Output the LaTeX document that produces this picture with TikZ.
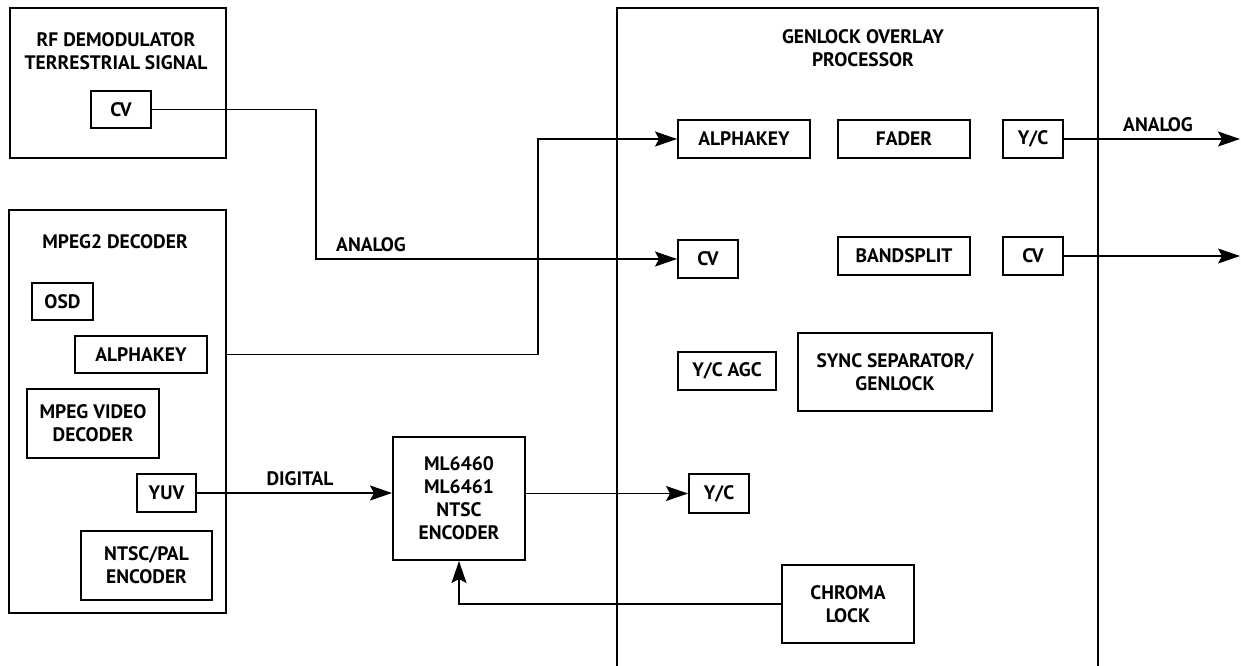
\documentclass[tikz,border=0pt]{standalone}
\usepackage{fontspec}
\setmainfont{PT Sans}
\usetikzlibrary{arrows.meta}
\newcommand{\blockfont}{\fontsize{19.5}{23}\selectfont\bfseries}
\tikzstyle{block} = [draw, line width=2pt, inner sep=0pt, align=center, font=\blockfont]
\tikzstyle{title} = [inner sep=0pt, align=center, font=\blockfont]
\tikzstyle{wire} = [line width=1.2pt]
\tikzstyle{sig} = [wire, -{Stealth[length=22pt,width=15pt,inset=4pt]}]

\begin{document}
\begin{tikzpicture}[x=1pt, y=-1pt]
	\useasboundingbox (0,0) rectangle (1241,665);
	\clip (0,0) rectangle (1241,665);
	% left side
	\node[block, minimum width=216pt, minimum height=150pt] (rf) at (118,83) {};
	\node[title] (rftitle) at (116,51) {RF DEMODULATOR\\TERRESTRIAL SIGNAL};
	\node[block, minimum width=60pt, minimum height=37pt] (rfcv) at (121,109.5) {CV};
	\node[block, minimum width=217pt, minimum height=403pt] (mpeg) at (117.5,411.5) {};
	\node[title] (mpegtitle) at (115,242) {MPEG2 DECODER};
	\node[block, minimum width=61pt, minimum height=37pt] (osd) at (62.5,301.5) {OSD};
	\node[block, minimum width=132pt, minimum height=37pt] (mkey) at (141,354.5) {ALPHAKEY};
	\node[block, minimum width=132pt, minimum height=69pt] (vdec) at (93,423.5) {MPEG VIDEO\\DECODER};
	\node[block, minimum width=59pt, minimum height=38pt] (yuv) at (166.5,493) {YUV};
	\node[block, minimum width=131pt, minimum height=69pt] (npal) at (146.5,565.5) {NTSC/PAL\\ENCODER};
	\node[block, minimum width=132pt, minimum height=123pt] (enc) at (459,498.5) {ML6460\\ML6461\\NTSC\\ENCODER};
	% genlock processor
	\node[block, minimum width=481pt, minimum height=700pt] (genlock) at (857.5,358) {};
	\node[title] (gtitle) at (863,48) {GENLOCK OVERLAY\\PROCESSOR};
	\node[block, minimum width=132pt, minimum height=38pt] (gkey) at (744,139) {ALPHAKEY};
	\node[block, minimum width=132pt, minimum height=38pt] (fader) at (904,139) {FADER};
	\node[block, minimum width=60pt, minimum height=38pt] (gyc) at (1033,139) {Y/C};
	\node[block, minimum width=60pt, minimum height=38pt] (gcv) at (708,259) {CV};
	\node[block, minimum width=132pt, minimum height=38pt] (band) at (904,256) {BANDSPLIT};
	\node[block, minimum width=60pt, minimum height=38pt] (gcvout) at (1033,256) {CV};
	\node[block, minimum width=98pt, minimum height=38pt] (agc) at (727,371) {Y/C AGC};
	\node[block, minimum width=194pt, minimum height=78pt] (sync) at (895,372) {SYNC SEPARATOR/\\GENLOCK};
	\node[block, minimum width=60pt, minimum height=39pt] (gycin) at (719,493.5) {Y/C};
	\node[block, minimum width=132pt, minimum height=78pt] (chroma) at (848,604) {CHROMA\\LOCK};
	% connections
	\coordinate (rfbend) at (316,259);
	\coordinate (keybend) at (538,139);
	\coordinate (ycout) at (1240,139);
	\coordinate (cvout) at (1240,256);
	\draw[sig] (rfcv.east) -| (rfbend) -- (gcv.west);
	\draw[sig] (mkey.east -| mpeg.east) -| (keybend) -- (gkey.west);
	\draw[sig] (yuv.east) -- (yuv.east -| enc.west);
	\draw[sig] (gycin.west -| enc.east) -- (gycin.west);
	\draw[sig] (chroma.west) -| (enc.south);
	\draw[sig] (gyc.east) -- (ycout);
	\draw[sig] (gcvout.east) -- (cvout);
	\node[title] (lanalog) at (371,245) {ANALOG};
	\node[title] (ldigital) at (300,479) {DIGITAL};
	\node[title] (ranalog) at (1158,125) {ANALOG};
\end{tikzpicture}
\end{document}
